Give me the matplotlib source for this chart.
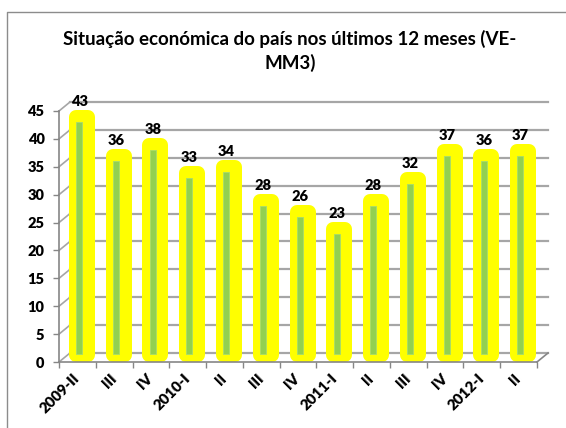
import matplotlib
matplotlib.use("Agg")
import matplotlib.pyplot as plt
from matplotlib.lines import Line2D
import numpy as np

# ---- data ----
categories = ["2009-II", "III", "IV", "2010-I", "II", "III", "IV",
              "2011-I", "II", "III", "IV", "2012-I", "II"]
values = [43, 36, 38, 33, 34, 28, 26, 23, 28, 32, 37, 36, 37]
yticks = [0, 5, 10, 15, 20, 25, 30, 35, 40, 45]
title = "Situação económica do país nos últimos 12 meses (VE-\nMM3)"

FONT = ["Lato", "DejaVu Sans"]
plt.rcParams["font.family"] = FONT

W, H = 566, 428
fig = plt.figure(figsize=(W / 100, H / 100), dpi=100)

# axes: front plane of pseudo-3D chart
x0, x1 = 59, 537   # px
yb, yt = 362, 111  # px (value 0 and 45)
ax = fig.add_axes([x0 / W, (H - yb) / H, (x1 - x0) / W, (yb - yt) / H])
n = len(categories)
ax.set_xlim(-0.5, n - 0.5)
ax.set_ylim(0, 45)

pxx = n / (x1 - x0)      # data units per px (x)
pxy = 45 / (yb - yt)     # data units per px (y)

# depth offset for back wall
ddx, ddy = 11 * pxx, 9 * pxy

grid_c = "#A6A6A6"
axis_c = "#868686"

# back wall gridlines + left diagonals
for v in yticks:
    ax.plot([-0.5 + ddx, n - 0.5 + ddx], [v + ddy, v + ddy], color=grid_c,
            lw=1.6, clip_on=False, zorder=1)
    ax.plot([-0.5, -0.5 + ddx], [v, v + ddy], color=grid_c, lw=1.2,
            clip_on=False, zorder=1)
# bottom-right diagonal
ax.plot([n - 0.5, n - 0.5 + ddx], [0, ddy], color=axis_c, lw=1.2,
        clip_on=False, zorder=1)

x = np.arange(n)

# yellow glow bars (core rect + thick rounded edge of 7px each side)
lw_y = 14  # px
ax.bar(x + 4.5 * pxx, [v - 2 * pxy for v in values], bottom=7 * pxy,
       width=12 * pxx, color="#FFFF00", edgecolor="#FFFF00",
       linewidth=lw_y * 0.72, joinstyle="round", zorder=2, clip_on=False)
# green inner bars
ax.bar(x + 1.8 * pxx, [v - 8 * pxy for v in values], bottom=8 * pxy,
       width=6 * pxx, color="#92D050", edgecolor="#A6DC6E",
       linewidth=0.6, zorder=3, clip_on=False)

# value labels
for xi, v in zip(x, values):
    ax.annotate(str(v), (xi + 1.8 * pxx, v), xytext=(0, 16),
                textcoords="offset pixels", ha="center", va="baseline",
                fontsize=10.5, fontweight="heavy", color="black",
                family=FONT, zorder=5, annotation_clip=False)

# spines
for s in ["top", "right"]:
    ax.spines[s].set_visible(False)
for s in ["left", "bottom"]:
    ax.spines[s].set_color(axis_c)
    ax.spines[s].set_linewidth(1.2)
ax.set_facecolor("none")

ax.set_yticks(yticks)
ax.set_yticklabels([str(t) for t in yticks], fontsize=10.5, fontweight="heavy")
ax.tick_params(axis="y", length=4.5, color=axis_c, width=1, pad=6)

ax.set_xticks(np.arange(-0.5, n, 1.0), minor=True)
ax.set_xticks(x)
ax.set_xticklabels([])
ax.tick_params(axis="x", which="minor", length=4, color=axis_c, width=1,
               direction="out")
ax.tick_params(axis="x", which="major", length=0)

for xi, lab in zip(x, categories):
    ax.annotate(lab, (xi, 0), xytext=(0, -14), textcoords="offset pixels",
                ha="right", va="center", rotation=45, rotation_mode="anchor",
                fontsize=10.8, fontweight="heavy", annotation_clip=False)

# title
fig.text(290 / W, 1 - 51 / H, title, ha="center", va="center",
         fontsize=13.5, fontweight="bold", linespacing=1.4)

# chart border (cropped at right & bottom)
fig.add_artist(Line2D([6.5 / W, 6.5 / W, 1.0], [0.0, 1 - 12 / H, 1 - 12 / H],
                      color="#8C8C8C", lw=1.0, transform=fig.transFigure))

fig.savefig("out.png", dpi=100, facecolor="white")
